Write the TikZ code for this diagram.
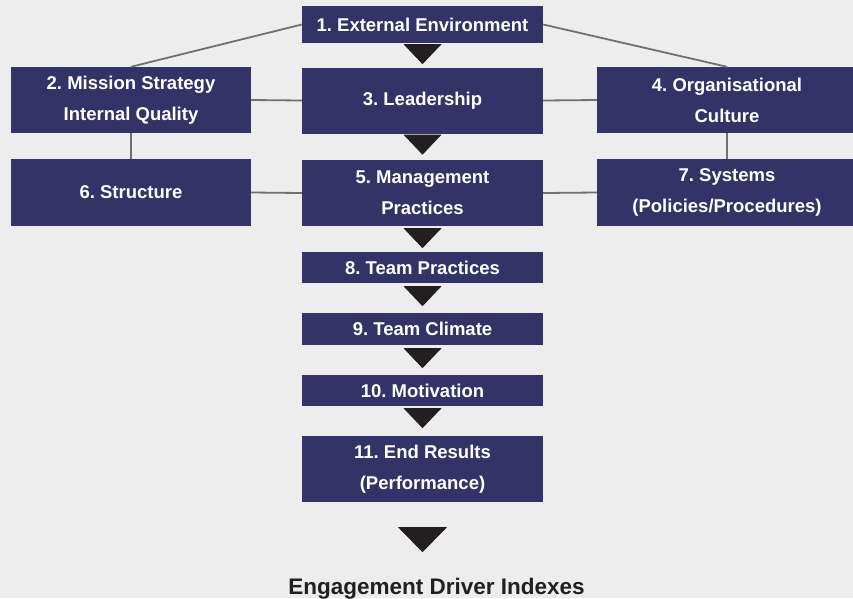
\documentclass[tikz,border=0pt]{standalone}
\usepackage{fontspec}
\setmainfont{Liberation Sans}
\frenchspacing
\definecolor{paper}{RGB}{237,237,237}
\definecolor{boxblue}{RGB}{51,51,104}
\definecolor{linkgrey}{RGB}{112,112,112}
\definecolor{ink}{RGB}{35,31,32}
\begin{document}
\begin{tikzpicture}[x=1pt,y=-1pt,
  box/.style={fill=boxblue, text=white, inner sep=0pt, align=center,
    font=\bfseries\fontsize{18.5}{31}\selectfont},
  link/.style={draw=linkgrey, line width=1.8pt},
  pointer/.style={fill=ink}]
  % page and paper
  \clip (0,0) rectangle (853,598);
  \fill[paper] (0,0) rectangle (853,598);

  % boxes
  \node[box, minimum width=241pt, minimum height=37pt] (b1) at (422.5,24.5) {1. External Environment};
  \node[box, minimum width=240pt, minimum height=66pt] (b2) at (131,100) {2. Mission Strategy\\Internal Quality};
  \node[box, minimum width=241pt, minimum height=66pt] (b3) at (422.5,100.5) {3. Leadership};
  \node[box, minimum width=260pt, minimum height=66pt] (b4) at (727,100) {4. Organisational\\Culture};
  \node[box, minimum width=241pt, minimum height=66pt] (b5) at (422.5,193) {5. Management\\Practices};
  \node[box, minimum width=240pt, minimum height=67pt] (b6) at (131,192.5) {6. Structure};
  \node[box, minimum width=260pt, minimum height=67pt] (b7) at (727,192.5) {7. Systems\\(Policies/Procedures)};
  \node[box, minimum width=241pt, minimum height=31pt] (b8) at (422.5,267.5) {8. Team Practices};
  \node[box, minimum width=241pt, minimum height=32pt] (b9) at (422.5,329) {9. Team Climate};
  \node[box, minimum width=241pt, minimum height=31pt] (b10) at (422.5,390.5) {10. Motivation};
  \node[box, minimum width=241pt, minimum height=66pt] (b11) at (422.5,469) {11. End Results\\(Performance)};

  \node[text=ink, anchor=base, inner sep=0pt,
    font=\bfseries\fontsize{22.5}{27}\selectfont] (title) at (436.5,594) {Engagement Driver Indexes};

  % grey links between the boxes
  \draw[link] (b1.west) -- (b2.north);
  \draw[link] (b1.east) -- (b4.north);
  \draw[link] (b2.east) -- (b3.west);
  \draw[link] (b3.east) -- (b4.west);
  \draw[link] (b2.south) -- (b6.north);
  \draw[link] (b4.south) -- (b7.north);
  \draw[link] (b6.east) -- (b5.west);
  \draw[link] (b5.east) -- (b7.west);

  % downward pointers between the central boxes
  \foreach \b/\g in {b1/1, b3/1, b5/2, b8/3, b9/3, b10/2}{
    \fill[pointer] (\b.south) ++(-19,\g) -- ++(38,0) -- ++(-19,20) -- cycle;
  }
  \fill[pointer] (b11.south) ++(-24.5,25) -- ++(49,0) -- ++(-24.5,25) -- cycle;
\end{tikzpicture}
\end{document}
